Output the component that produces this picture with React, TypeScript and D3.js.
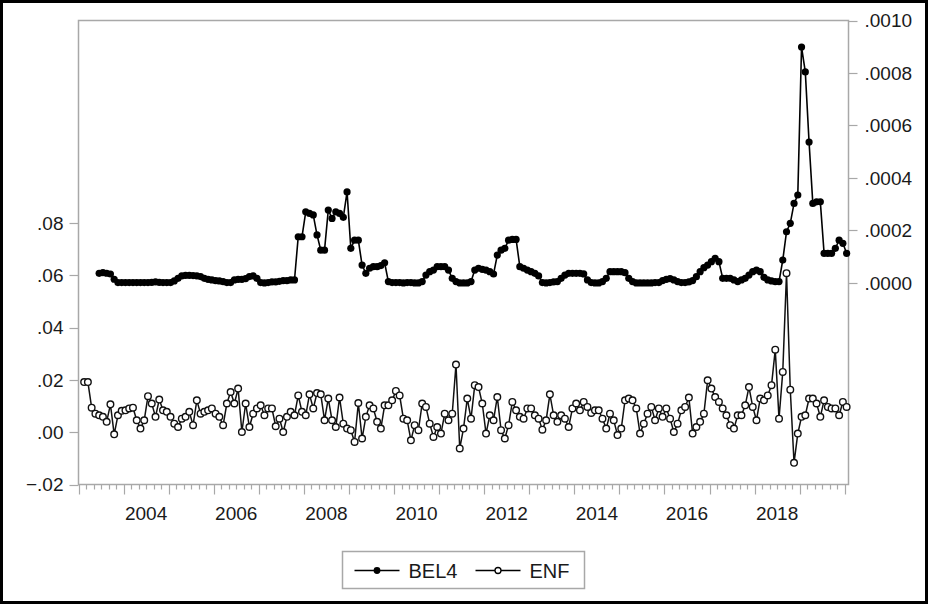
import React, { useRef, useEffect } from 'react';
import * as d3 from 'd3';

// monthly series, first observation (year, month)
const enfStart = [2003, 2];
const bel4Start = [2003, 6];

const enfValues = [
  0.0192, 0.0192, 0.0094, 0.0071, 0.0065, 0.0059, 0.0040, 0.0107, -0.0008, 0.0065,
  0.0082, 0.0084, 0.0091, 0.0094, 0.0046, 0.0014, 0.0046, 0.0138, 0.0110, 0.0059,
  0.0125, 0.0084, 0.0078, 0.0059, 0.0033, 0.0020, 0.0052, 0.0059, 0.0078, 0.0027,
  0.0122, 0.0071, 0.0078, 0.0084, 0.0091, 0.0071, 0.0059, 0.0027, 0.0110, 0.0154,
  0.0110, 0.0167, 0.0001, 0.0110, 0.0020, 0.0071, 0.0091, 0.0103, 0.0065, 0.0091,
  0.0091, 0.0023, 0.0052, 0.0001, 0.0059, 0.0078, 0.0065, 0.0141, 0.0078, 0.0065,
  0.0145, 0.0091, 0.0150, 0.0145, 0.0046, 0.0129, 0.0046, 0.0020, 0.0133, 0.0033,
  0.0014, 0.0008, -0.0037, 0.0112,
  -0.0024, 0.0059, 0.0103, 0.0091, 0.0040, 0.0014, 0.0103, 0.0103, 0.0122, 0.0158,
  0.0141, 0.0052, 0.0046, -0.0031, 0.0027, 0.0008, 0.0110, 0.0097, 0.0033, -0.0018,
  0.0020, -0.0005, 0.0071, 0.0046, 0.0071, 0.0259, -0.0062, 0.0014, 0.0129, 0.0052,
  0.0180, 0.0173, 0.0110, -0.0005, 0.0065, 0.0046, 0.0135, 0.0008, -0.0024, 0.0027,
  0.0116, 0.0084, 0.0059, 0.0052, 0.0091, 0.0091, 0.0065, 0.0052, 0.0010, 0.0046,
  0.0145, 0.0065, 0.0040, 0.0065, 0.0052, 0.0020, 0.0091, 0.0110, 0.0084, 0.0116,
  0.0097, 0.0074, 0.0084, 0.0084, 0.0052, 0.0014, 0.0071, 0.0046, -0.0011, 0.0014,
  0.0122, 0.0129,
  0.0122, 0.0091, -0.0005, 0.0033, 0.0071, 0.0097, 0.0046, 0.0091, 0.0059, 0.0091,
  0.0052, 0.0001, 0.0033, 0.0084, 0.0097, 0.0133, -0.0005, 0.0020, 0.0040, 0.0071,
  0.0199, 0.0167, 0.0135, 0.0116, 0.0091, 0.0065, 0.0027, 0.0014, 0.0065, 0.0065,
  0.0103, 0.0173, 0.0097, 0.0046, 0.0129, 0.0122, 0.0141, 0.0180, 0.0316, 0.0052,
  0.0231, 0.0609, 0.0163, -0.0117, -0.0005, 0.0059, 0.0065, 0.0129, 0.0129, 0.0110,
  0.0059, 0.0122, 0.0097, 0.0091, 0.0091, 0.0065, 0.0116, 0.0097,
];

const bel4Values = [
  36.8e-6, 39e-6, 37e-6, 34e-6, 14e-6, 1.3e-6, 1.3e-6, 1.3e-6, 1.3e-6, 1.3e-6,
  1.3e-6, 1.3e-6, 1.3e-6, 1.3e-6, 2.5e-6, 3.8e-6, 2.5e-6, 1.3e-6, 1.3e-6, 1.3e-6,
  7.6e-6, 17.7e-6, 26.6e-6, 29.2e-6, 29.2e-6, 27.9e-6, 26.6e-6, 24.1e-6, 17.7e-6, 13.9e-6,
  11.4e-6, 8.9e-6, 7.6e-6, 5.1e-6, 1.3e-6, 1.3e-6, 11.4e-6, 13.9e-6, 13.9e-6, 16.5e-6,
  24.1e-6, 26.6e-6, 17.7e-6, 1.3e-6, 0, 1.3e-6, 3.8e-6, 3.8e-6, 6.3e-6, 8.9e-6,
  8.9e-6, 11.4e-6, 11.4e-6, 176e-6, 176e-6, 271e-6, 265e-6, 259e-6, 183e-6, 125e-6,
  125e-6, 278e-6, 246e-6, 271e-6, 265e-6, 250e-6, 347e-6, 132e-6, 163e-6, 163e-6,
  68e-6, 36.8e-6, 56e-6, 62e-6, 62e-6, 66e-6, 77e-6, 5.1e-6, 1.3e-6, 1.3e-6,
  1.3e-6, 0, 1.3e-6, 1.3e-6, 0, 0, 5.1e-6, 30e-6, 43e-6, 49e-6,
  62e-6, 62e-6, 62e-6, 49e-6, 17.7e-6, 5.1e-6, 0, 0, 0, 5.1e-6,
  49e-6, 56e-6, 52e-6, 49e-6, 43e-6, 34e-6, 106e-6, 125e-6, 132e-6, 163e-6,
  166e-6, 166e-6, 62e-6, 56e-6, 49e-6, 43e-6, 36.8e-6, 26.6e-6, 1.3e-6, 0,
  1.3e-6, 3.8e-6, 5.1e-6, 17.7e-6, 30e-6, 36.8e-6, 36.8e-6, 36.8e-6, 36.8e-6, 34.2e-6,
  11.4e-6, 1.3e-6, 0, 0, 5.1e-6, 17.7e-6, 43e-6, 43e-6, 43e-6, 43e-6,
  39e-6, 17.7e-6, 5.1e-6, 0, 0, 0, 0, 0, 1.3e-6, 1.3e-6,
  8.9e-6, 13.9e-6, 16.5e-6, 11.4e-6, 5.1e-6, 1.3e-6, 1.3e-6, 3.8e-6, 8.9e-6, 24e-6,
  43e-6, 58e-6, 68e-6, 81e-6, 94e-6, 81e-6, 17.7e-6, 17.7e-6, 17.7e-6, 11.4e-6,
  5.1e-6, 11.4e-6, 17.7e-6, 30e-6, 43e-6, 49e-6, 43e-6, 21.5e-6, 11.4e-6, 7.6e-6,
  5.1e-6, 5.1e-6, 87e-6, 195e-6, 227e-6, 303e-6, 335e-6, 899e-6, 804e-6, 537e-6,
  303e-6, 309e-6, 309e-6, 113e-6, 113e-6, 113e-6, 132e-6, 163e-6, 151e-6, 113e-6,
];

const leftTicks = [-0.02, 0, 0.02, 0.04, 0.06, 0.08];
const rightTicks = [0, 0.0002, 0.0004, 0.0006, 0.0008, 0.001];
const yearLabels = [2004, 2006, 2008, 2010, 2012, 2014, 2016, 2018];
const seriesNames = ['BEL4', 'ENF'];

const FONT = '"Liberation Sans", Arial, sans-serif';

// decimal year of month centre
const monthTime = (start: number[], i: number) => {
  const m = start[0] * 12 + (start[1] - 1) + i;
  return Math.floor(m / 12) + ((m % 12) + 0.5) / 12;
};

const App = () => {
  const svgRef = useRef<SVGSVGElement>(null);

  useEffect(() => {
    const svg = d3.select(svgRef.current);
    svg.selectAll('*').remove();

    const width = 928;
    const height = 604;
    const left = 78.5;
    const right = 848.5;
    const top = 20.5;
    const bottom = 484.5;
    const grey = '#a8a8a8';
    const textColor = '#1a1a1a';

    svg.append('rect')
      .attr('x', 0).attr('y', 0)
      .attr('width', width).attr('height', height)
      .style('fill', '#fff');

    // outer black border
    svg.append('rect')
      .attr('x', 1.5).attr('y', 1.5)
      .attr('width', width - 3).attr('height', height - 3)
      .style('fill', 'none')
      .style('stroke', '#000')
      .style('stroke-width', 3);

    const x = d3.scaleLinear().domain([2003, 2020 + 1 / 12]).range([left, right]);
    const yLeft = d3.scaleLinear().domain([-0.02, 0.1576]).range([bottom, top]);
    const yRight = d3.scaleLinear().domain([-0.000768, 0.001]).range([bottom, top]);

    // plot frame
    svg.append('rect')
      .attr('x', left).attr('y', top)
      .attr('width', right - left).attr('height', bottom - top)
      .style('fill', 'none')
      .style('stroke', grey)
      .style('stroke-width', 1.5);

    // left axis
    const fmtLeft = (d: number) => d3.format('.2f')(d).replace('0.', '.');
    svg.selectAll('.ltick').data(leftTicks).enter().append('line')
      .attr('x1', left - 9).attr('x2', left)
      .attr('y1', (d) => Math.round(yLeft(d)) + 0.5)
      .attr('y2', (d) => Math.round(yLeft(d)) + 0.5)
      .style('stroke', grey).style('stroke-width', 1.2);
    svg.selectAll('.llabel').data(leftTicks).enter().append('text')
      .text(fmtLeft)
      .attr('x', left - 15)
      .attr('y', (d) => yLeft(d))
      .attr('dy', '0.35em')
      .attr('text-anchor', 'end')
      .style('font-family', FONT)
      .style('font-size', '19px')
      .style('fill', textColor);

    // right axis
    const fmtRight = (d: number) => d3.format('.4f')(d).replace('0.', '.');
    svg.selectAll('.rtick').data(rightTicks).enter().append('line')
      .attr('x1', right).attr('x2', right + 9)
      .attr('y1', (d) => Math.round(yRight(d)) + 0.5)
      .attr('y2', (d) => Math.round(yRight(d)) + 0.5)
      .style('stroke', grey).style('stroke-width', 1.2);
    svg.selectAll('.rlabel').data(rightTicks).enter().append('text')
      .text(fmtRight)
      .attr('x', right + 16)
      .attr('y', (d) => yRight(d))
      .attr('dy', '0.35em')
      .attr('text-anchor', 'start')
      .style('font-family', FONT)
      .style('font-size', '19px')
      .style('fill', textColor);

    // bottom axis: tick every two months, longer at each year
    const tickMonths = d3.range(0, 17 * 12 + 1, 2);
    svg.selectAll('.btick').data(tickMonths).enter().append('line')
      .attr('x1', (m) => Math.round(x(2003 + m / 12)) + 0.5)
      .attr('x2', (m) => Math.round(x(2003 + m / 12)) + 0.5)
      .attr('y1', bottom)
      .attr('y2', (m) => bottom + (m % 12 === 0 ? 10 : 5))
      .style('stroke', grey).style('stroke-width', 1.2);
    svg.selectAll('.blabel').data(yearLabels).enter().append('text')
      .text((d) => String(d))
      .attr('x', (d) => x(d + 0.5))
      .attr('y', bottom + 35)
      .attr('text-anchor', 'middle')
      .style('font-family', FONT)
      .style('font-size', '19px')
      .style('fill', textColor);

    // BEL4 (right scale)
    const bel4 = bel4Values.map((v, i) => ({ t: monthTime(bel4Start, i), v }));
    const bel4Line = d3.line<{ t: number; v: number }>()
      .x((d) => x(d.t)).y((d) => yRight(d.v));
    svg.append('path')
      .datum(bel4)
      .attr('d', bel4Line)
      .style('fill', 'none')
      .style('stroke', '#000')
      .style('stroke-width', 1.6);
    svg.selectAll('.bdot').data(bel4).enter().append('circle')
      .attr('cx', (d) => x(d.t))
      .attr('cy', (d) => yRight(d.v))
      .attr('r', 3.6)
      .style('fill', '#000');

    // ENF (left scale)
    const enf = enfValues.map((v, i) => ({ t: monthTime(enfStart, i), v }));
    const enfLine = d3.line<{ t: number; v: number }>()
      .x((d) => x(d.t)).y((d) => yLeft(d.v));
    svg.append('path')
      .datum(enf)
      .attr('d', enfLine)
      .style('fill', 'none')
      .style('stroke', '#111')
      .style('stroke-width', 1.5);
    svg.selectAll('.edot').data(enf).enter().append('circle')
      .attr('cx', (d) => x(d.t))
      .attr('cy', (d) => yLeft(d.v))
      .attr('r', 3.3)
      .style('fill', '#fff')
      .style('stroke', '#111')
      .style('stroke-width', 1.4);

    // legend
    const lg = svg.append('g').attr('transform', 'translate(342.5,551.5)');
    lg.append('rect')
      .attr('width', 242).attr('height', 37)
      .style('fill', '#fff')
      .style('stroke', grey)
      .style('stroke-width', 1.5);
    seriesNames.forEach((name, i) => {
      const ox = 12 + i * 121;
      lg.append('line')
        .attr('x1', ox).attr('x2', ox + 45)
        .attr('y1', 19).attr('y2', 19)
        .style('stroke', '#000').style('stroke-width', 1.6);
      lg.append('circle')
        .attr('cx', ox + 22.5).attr('cy', 19)
        .attr('r', i === 0 ? 3.4 : 3)
        .style('fill', i === 0 ? '#000' : '#fff')
        .style('stroke', '#000')
        .style('stroke-width', i === 0 ? 0 : 1.3);
      lg.append('text')
        .text(name)
        .attr('x', ox + 54)
        .attr('y', 26)
        .style('font-family', FONT)
        .style('font-size', '20px')
        .style('fill', textColor);
    });
  }, []);

  return (
    <svg
      ref={svgRef}
      width={928}
      height={604}
      style={{ position: 'absolute', left: 0, top: 0 }}
    ></svg>
  );
};

export default App;
